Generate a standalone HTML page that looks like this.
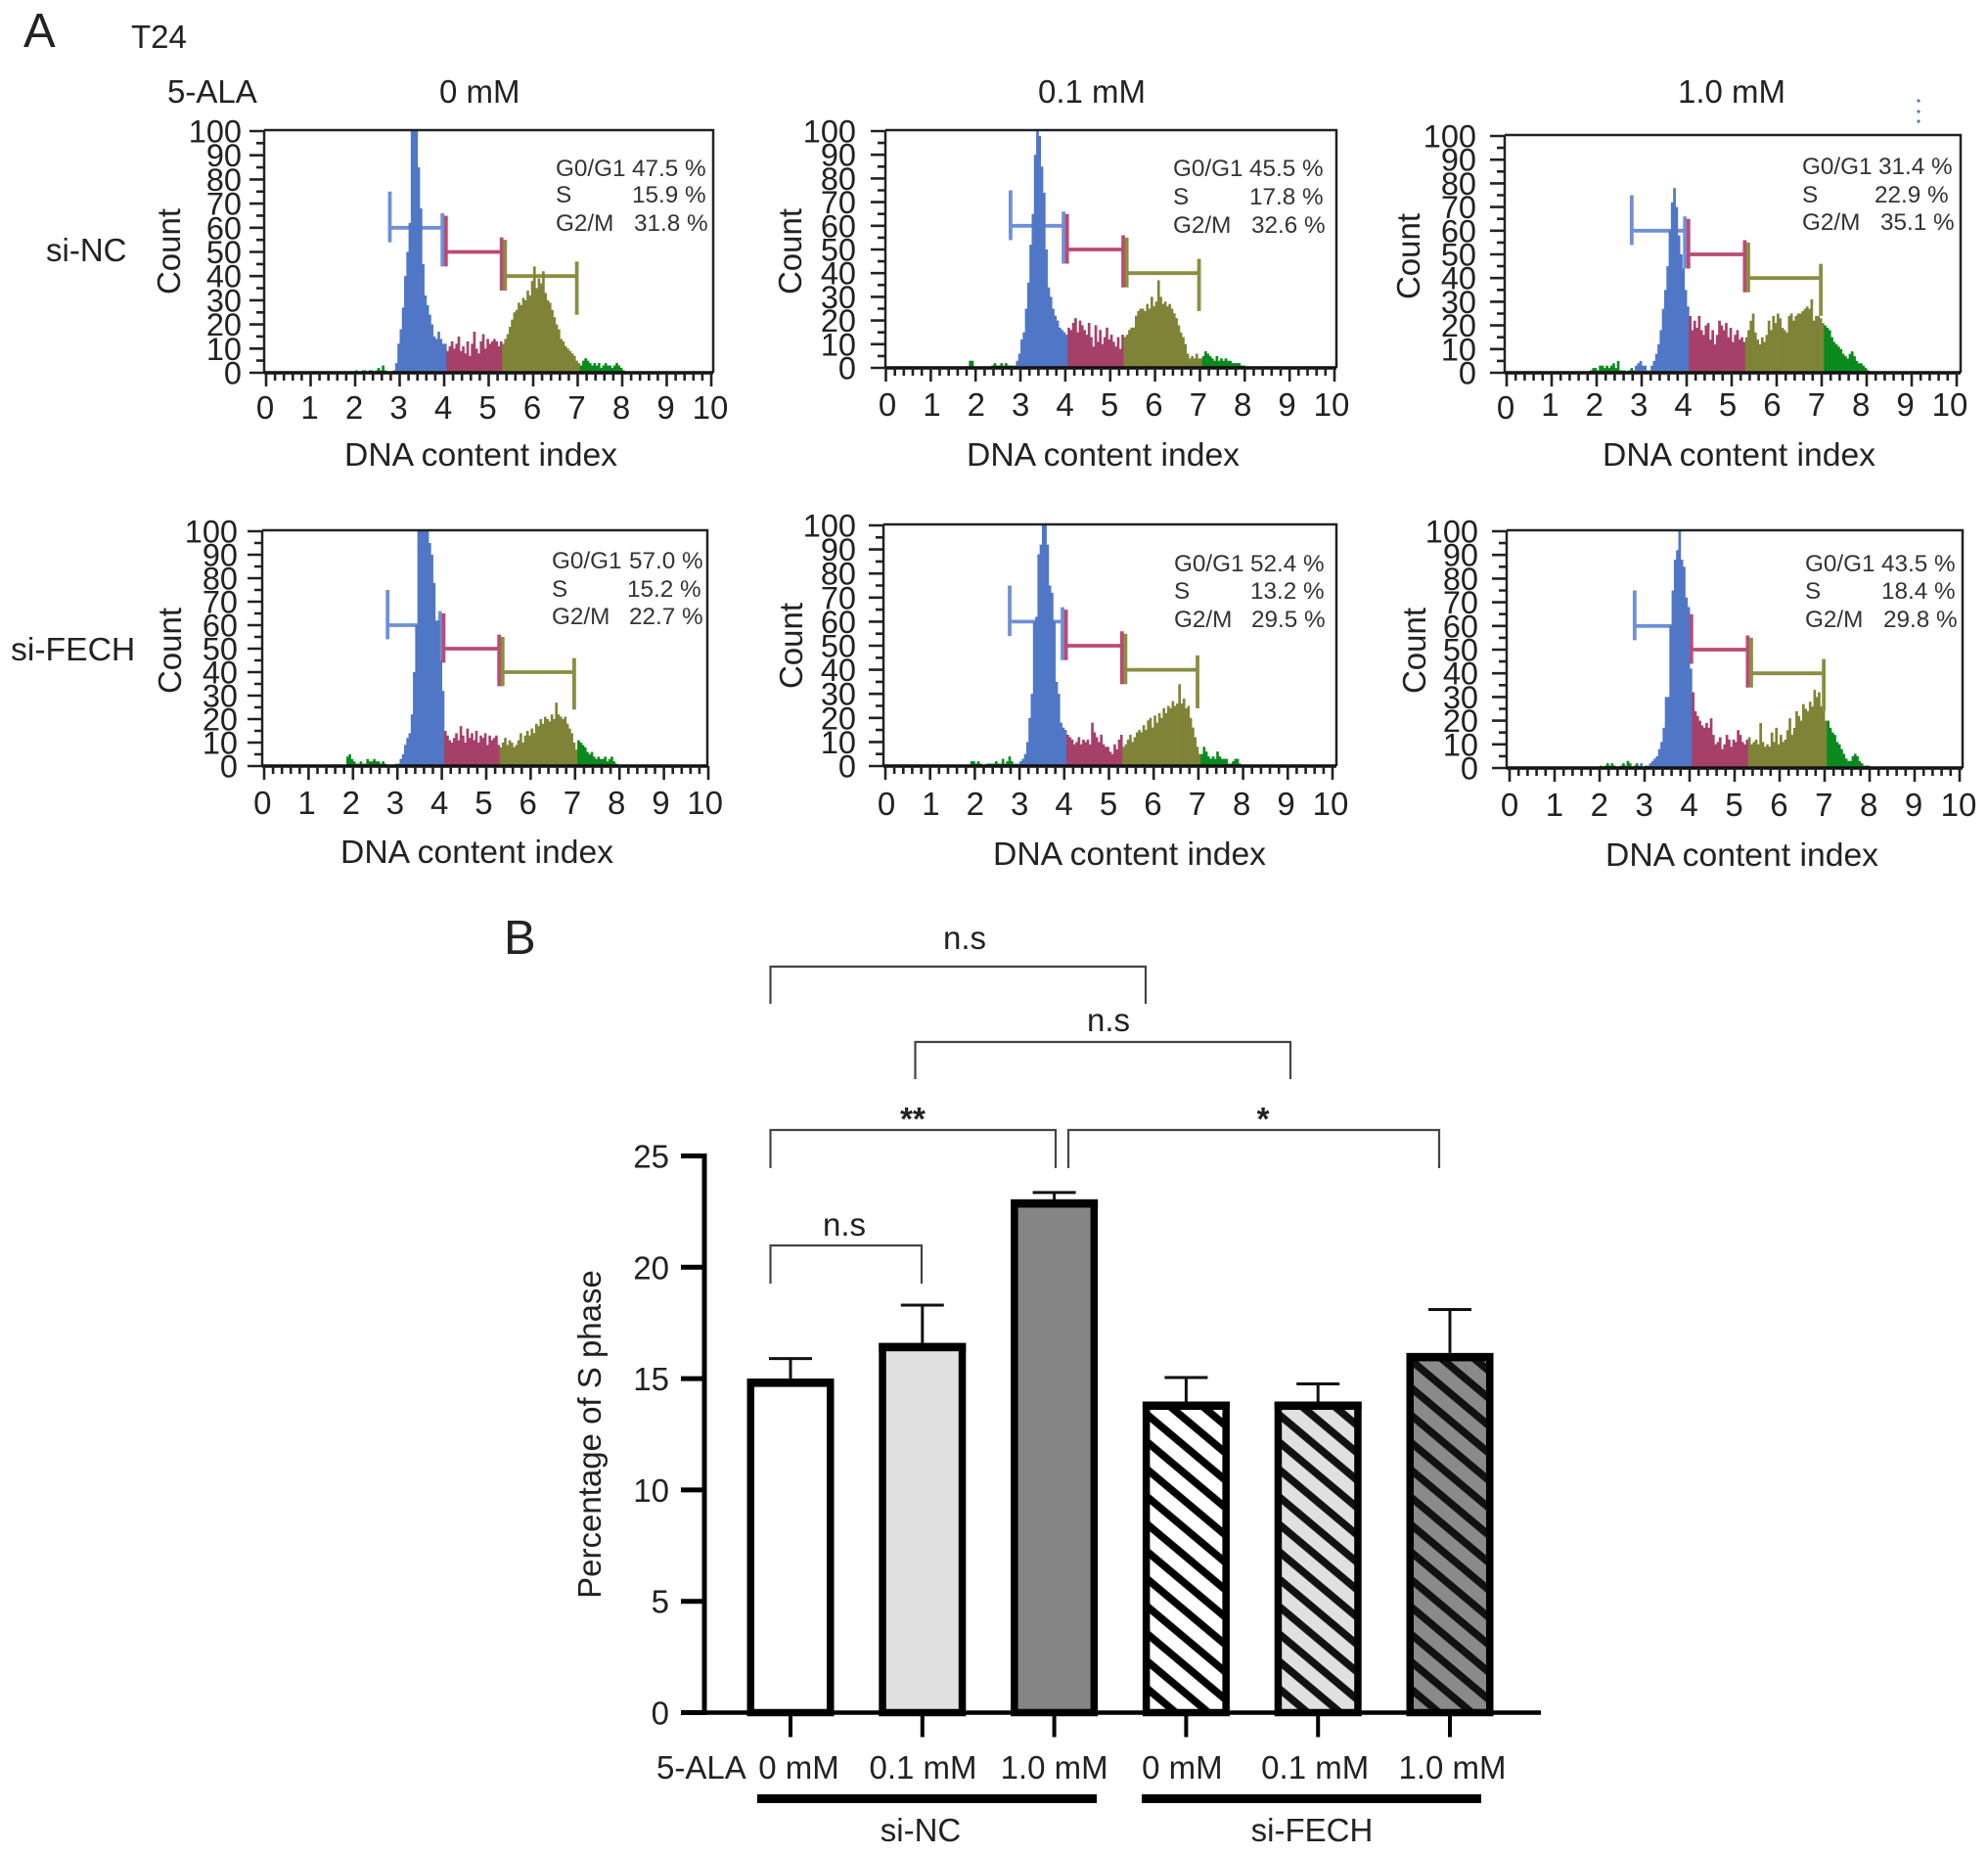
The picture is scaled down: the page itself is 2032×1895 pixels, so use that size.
<!DOCTYPE html>
<html lang="en">
<head>
<meta charset="utf-8">
<title>T24 cell cycle analysis</title>
<style>
html,body{margin:0;padding:0;background:#fff;}
svg{display:block;}
text{font-family:"Liberation Sans",Arial,sans-serif;fill:#222;}
.ax{font-size:33px;}
.dna{font-size:33.7px;}
.st{font-size:24.3px;fill:#333;}
.big{font-size:49px;}
</style>
</head>
<body>
<svg id="figure" xmlns="http://www.w3.org/2000/svg" width="2032" height="1895" viewBox="0 0 2032 1895">
<defs>
<pattern id="hatch-white" patternUnits="userSpaceOnUse" width="21.45" height="21.45" patternTransform="rotate(-50)">
<rect width="21.45" height="21.45" fill="#ffffff"/><rect x="6.9" width="7.7" height="21.45" fill="#000"/>
</pattern>
<pattern id="hatch-light" patternUnits="userSpaceOnUse" width="21.45" height="21.45" patternTransform="rotate(-50)">
<rect width="21.45" height="21.45" fill="#e0e0e0"/><rect x="7.7" width="7.7" height="21.45" fill="#111"/>
</pattern>
<pattern id="hatch-dark" patternUnits="userSpaceOnUse" width="21.45" height="21.45" patternTransform="rotate(-50)">
<rect width="21.45" height="21.45" fill="#8a8a8a"/><rect x="8.25" width="7.7" height="21.45" fill="#111"/>
</pattern>
</defs>

<text class="big" x="24" y="48">A</text>
<text x="134" y="49" style="font-size:33px">T24</text>
<text class="ax" x="171" y="105">5-ALA</text>
<text class="ax" x="449" y="105">0 mM</text>
<text class="ax" x="1061" y="105">0.1 mM</text>
<text class="ax" x="1715" y="105">1.0 mM</text>
<text class="ax" x="47" y="267">si-NC</text>
<text class="ax" x="11" y="675" style="font-size:33.7px">si-FECH</text>
<g fill="#5577bb">
<circle cx="1961" cy="103" r="1.6"/><circle cx="1961" cy="114" r="1.6"/><circle cx="1961" cy="124" r="1.6"/>
</g>

<g id="panels"></g>

<!-- Per-panel axis titles -->
<text class="ax dna" x="352" y="476">DNA content index</text>
<text class="ax dna" x="988" y="476">DNA content index</text>
<text class="ax dna" x="1638" y="476">DNA content index</text>
<text class="ax dna" x="348" y="882">DNA content index</text>
<text class="ax dna" x="1015" y="884">DNA content index</text>
<text class="ax dna" x="1641" y="885">DNA content index</text>
<text class="ax" text-anchor="middle" transform="translate(184,257) rotate(-90)">Count</text>
<text class="ax" text-anchor="middle" transform="translate(819,257) rotate(-90)">Count</text>
<text class="ax" text-anchor="middle" transform="translate(1451,262) rotate(-90)">Count</text>
<text class="ax" text-anchor="middle" transform="translate(185,665) rotate(-90)">Count</text>
<text class="ax" text-anchor="middle" transform="translate(820,660) rotate(-90)">Count</text>
<text class="ax" text-anchor="middle" transform="translate(1457,665) rotate(-90)">Count</text>

<!-- Phase percentages -->
<g>
<text class="st" x="568" y="180">G0/G1</text><text class="st" x="646" y="180">47.5 %</text>
<text class="st" x="568" y="207">S</text><text class="st" x="646" y="207">15.9 %</text>
<text class="st" x="568" y="236">G2/M</text><text class="st" x="648" y="236">31.8 %</text>
</g>
<g>
<text class="st" x="1199" y="180">G0/G1</text><text class="st" x="1277" y="180">45.5 %</text>
<text class="st" x="1199" y="209">S</text><text class="st" x="1277" y="209">17.8 %</text>
<text class="st" x="1199" y="238">G2/M</text><text class="st" x="1279" y="238">32.6 %</text>
</g>
<g>
<text class="st" x="1842" y="178">G0/G1</text><text class="st" x="1920" y="178">31.4 %</text>
<text class="st" x="1842" y="207">S</text><text class="st" x="1916" y="207">22.9 %</text>
<text class="st" x="1842" y="235">G2/M</text><text class="st" x="1922" y="235">35.1 %</text>
</g>
<g>
<text class="st" x="564" y="581">G0/G1</text><text class="st" x="643" y="581">57.0 %</text>
<text class="st" x="564" y="610">S</text><text class="st" x="641" y="610">15.2 %</text>
<text class="st" x="564" y="638">G2/M</text><text class="st" x="643" y="638">22.7 %</text>
</g>
<g>
<text class="st" x="1200" y="584">G0/G1</text><text class="st" x="1278" y="584">52.4 %</text>
<text class="st" x="1200" y="612">S</text><text class="st" x="1278" y="612">13.2 %</text>
<text class="st" x="1200" y="641">G2/M</text><text class="st" x="1279" y="641">29.5 %</text>
</g>
<g>
<text class="st" x="1845" y="584">G0/G1</text><text class="st" x="1923" y="584">43.5 %</text>
<text class="st" x="1845" y="612">S</text><text class="st" x="1923" y="612">18.4 %</text>
<text class="st" x="1845" y="641">G2/M</text><text class="st" x="1925" y="641">29.8 %</text>
</g>

<!-- Panel B -->
<text class="big" x="515" y="975">B</text>
<g id="bar-chart"></g>
<text class="ax" text-anchor="middle" transform="translate(614,1466) rotate(-90)">Percentage of S phase</text>
<text class="ax" x="671" y="1818">5-ALA</text>
<rect x="774" y="1834" width="347" height="9" fill="#000"/>
<rect x="1167" y="1834" width="347" height="9" fill="#000"/>
<text class="ax" x="941" y="1882" text-anchor="middle">si-NC</text>
<text class="ax" x="1341" y="1882" text-anchor="middle">si-FECH</text>

<g fill="none" stroke="#444" stroke-width="2.2">
<path d="M787.5 1026V988H1171V1026"/>
<path d="M935.5 1103V1065H1319V1103"/>
<path d="M787.5 1194V1155H1079V1194"/>
<path d="M1092 1194V1155H1471V1194"/>
<path d="M787.5 1312V1273H942V1312"/>
</g>
<text class="ax" x="986" y="970" text-anchor="middle">n.s</text>
<text class="ax" x="1133" y="1054" text-anchor="middle">n.s</text>
<text class="ax" x="933" y="1155" text-anchor="middle" font-weight="bold">**</text>
<text class="ax" x="1291" y="1155" text-anchor="middle" font-weight="bold">*</text>
<text class="ax" x="863" y="1263" text-anchor="middle">n.s</text>
</svg>

<script>
// ---- Histogram data: counts for bins of width 0.05 beginning at DNA index 1.8 ----
var histFirstBin = 1.8;
var histBinWidth = 0.05;
var gateEdges = [2.74, 4.0, 5.33, 7.02];
var phaseEdges = [2.85, 4.05, 5.3, 7.05];
var gateLevels = [60, 50, 40];
var histXTickLabels = ['0','1','2','3','4','5','6','7','8','9','10'];
var histYTickLabels = ['0','10','20','30','40','50','60','70','80','90','100'];

var countsNc0 = [0,0,0,0,1,0,0,1,1,0,1,1,0,1,2,1,3,1,0,0,0,
1,4,12,18,27,40,50,62,100,100,100,85,68,45,32,28,24,20,15,14,17,14,12,12,
9,11,13,10,12,15,9,11,8,13,7,12,17,10,8,13,16,10,14,12,13,14,13,11,13,
12,14,16,19,22,25,26,29,28,31,30,34,32,38,44,35,39,37,42,33,30,29,26,23,20,18,14,13,11,10,9,8,7,5,4,
3,5,6,5,4,3,4,3,4,2,3,4,3,3,2,3,4,3,2,1,0];
var countsNc01 = [0,3,3,0,0,0,0,0,0,0,0,1,2,1,1,2,1,2,1,1,1,
1,3,6,12,15,25,36,52,65,90,100,98,85,74,50,34,30,25,22,20,17,16,15,14,
17,16,19,21,15,20,18,16,14,19,13,9,18,11,16,10,13,17,12,14,11,9,13,8,14,
13,14,16,17,17,22,24,25,25,24,27,25,30,26,28,37,30,27,28,26,27,25,23,21,18,15,13,10,6,4,5,4,6,4,4,
5,7,6,5,4,3,5,3,4,3,4,3,3,2,2,2,2,1,1,0,0];
var countsNc10 = [0,1,2,2,1,3,3,2,3,2,3,4,2,5,1,1,1,0,1,2,1,
3,4,5,3,3,1,1,3,5,8,12,18,27,35,45,60,72,78,70,58,50,44,35,28,
24,18,22,19,24,18,16,20,21,14,18,12,16,22,20,18,21,15,19,13,16,18,14,15,13,
15,18,22,25,17,14,12,15,13,16,22,18,24,21,25,23,19,18,17,24,25,22,24,25,25,26,27,28,27,31,22,24,24,23,21,
20,19,18,15,13,12,11,10,8,7,6,8,9,7,5,4,4,3,2,1,0];
var countsFech0 = [0,4,5,3,2,1,1,2,1,1,3,2,2,3,2,2,1,2,1,0,0,
0,0,1,1,3,5,9,12,14,22,40,60,100,100,100,100,100,95,90,78,62,62,45,32,
15,13,11,10,12,14,11,17,13,10,16,12,14,11,15,10,13,12,14,9,13,11,12,13,9,
8,10,12,9,11,10,8,9,11,14,10,13,15,13,16,14,18,17,20,18,21,20,19,22,20,27,22,21,20,21,18,16,14,10,7,
11,10,9,8,6,5,6,4,3,4,3,3,4,2,3,4,2,1,0,0,0];
var countsFech01 = [0,0,2,2,1,2,1,0,0,1,1,1,1,2,1,1,3,1,2,4,2,
1,1,1,2,3,5,10,20,30,60,62,88,92,100,100,92,75,72,60,35,30,18,16,15,
13,12,11,9,10,12,9,11,10,11,9,18,14,12,10,13,9,8,8,6,5,9,7,11,13,
8,9,11,13,10,12,14,15,14,17,15,19,20,16,21,18,22,20,24,22,25,24,27,25,26,34,26,28,24,25,20,16,12,8,5,
5,8,6,4,3,4,3,6,4,3,3,3,1,1,2,3,3,1,0,0,0];
var countsFech10 = [0,0,0,0,1,0,1,2,1,2,1,0,0,1,2,1,3,2,0,1,2,
1,2,0,1,1,2,3,4,5,8,11,17,30,30,60,75,88,92,100,88,85,72,68,42,
32,24,22,20,18,17,19,17,21,14,10,11,13,8,10,14,12,9,12,11,16,14,11,10,12,
13,10,11,12,10,19,11,9,10,9,15,11,17,10,14,11,12,16,21,14,17,24,22,20,27,25,24,28,26,33,30,32,26,24,20,
20,17,15,14,11,10,8,6,4,3,3,5,6,5,3,2,1,1,1,0,0];

// ---- Bar chart data ----
var barCategories = ['0 mM','0.1 mM','1.0 mM','0 mM','0.1 mM','1.0 mM'];
var barValues = [15.0, 16.6, 23.05, 13.97, 13.97, 16.15];
var barErrorTops = [15.9, 18.3, 23.36, 15.05, 14.76, 18.1];
var barYTickLabels = ['0','5','10','15','20','25'];

var SVGNS = 'http://www.w3.org/2000/svg';
var panelsRoot = document.getElementById('panels');

function drawPanel(name, counts, box) {
  var g = document.createElementNS(SVGNS, 'g');
  
  
  panelsRoot.appendChild(g);

  var sx = function (v) { return box.x0 + (box.x10 - box.x0) * v / 10; };
  var sy = function (v) { return box.b + (box.t + 1 - box.b) * v / 100; };
  var lx = function (v) { return box.lx0 + (box.lx10 - box.lx0) * v / 10; };
  var binColors = ['#0b8a1e', '#5076c6', '#a64068', '#7f8338', '#0b8a1e'];
  var gateColors = ['#6f90d8', '#bb4a74', '#8b8e40'];

  // gates
  gateLevels.forEach(function (lvl, i) {
    var x1 = sx(gateEdges[i]), x2 = sx(gateEdges[i + 1]);
    var p = document.createElementNS(SVGNS, 'path');
    p.setAttribute('d', 'M' + x1 + ' ' + sy(lvl) + 'H' + x2 +
      'M' + (x1 + 1.8) + ' ' + sy(lvl + 15) + 'V' + sy(lvl - 6) +
      'M' + (x2 - 1.8) + ' ' + sy(lvl + 6) + 'V' + sy(lvl - 16));
    p.setAttribute('fill', 'none');
    p.setAttribute('stroke', gateColors[i]);
    p.setAttribute('stroke-width', '3.8');
    
    
    g.appendChild(p);
  });

  // histogram bins
  var binW = sx(histBinWidth) - sx(0);
  counts.forEach(function (c, i) {
    if (c <= 0) return;
    var v = histFirstBin + i * histBinWidth;
    var seg = 0;
    phaseEdges.forEach(function (e) { if (v >= e - 0.001) seg++; });
    var r = document.createElementNS(SVGNS, 'rect');
    r.setAttribute('x', sx(v).toFixed(2));
    r.setAttribute('y', sy(c).toFixed(2));
    r.setAttribute('width', (binW + 0.4).toFixed(2));
    r.setAttribute('height', (sy(0) - sy(c)).toFixed(2));
    r.setAttribute('fill', binColors[seg]);
    
    
    g.appendChild(r);
  });

  // frame
  var f = document.createElementNS(SVGNS, 'path');
  f.setAttribute('d', 'M' + box.l + ' ' + box.t + 'H' + box.r + 'V' + box.b + 'M' + box.l + ' ' + box.t + 'V' + box.b);
  f.setAttribute('fill', 'none');
  f.setAttribute('stroke', '#222');
  f.setAttribute('stroke-width', '2.5');
  
  
  g.appendChild(f);

  var base = document.createElementNS(SVGNS, 'line');
  base.setAttribute('x1', box.l);
  base.setAttribute('x2', box.r);
  base.setAttribute('y1', box.b);
  base.setAttribute('y2', box.b);
  base.setAttribute('stroke', '#111');
  base.setAttribute('stroke-width', '3.5');
  
  
  g.appendChild(base);

  // x ticks
  var td = '';
  for (var k = 0; k <= 50; k++) {
    var xv = k / 5;
    td += 'M' + sx(xv).toFixed(1) + ' ' + box.b + 'v' + (k % 5 === 0 ? 14 : 8);
  }
  // y ticks
  for (var m = 0; m <= 20; m++) {
    var yv = m * 5;
    td += 'M' + box.l + ' ' + sy(yv).toFixed(1) + 'h' + (m % 2 === 0 ? -15 : -8);
  }
  var ticks = document.createElementNS(SVGNS, 'path');
  ticks.setAttribute('d', td);
  ticks.setAttribute('fill', 'none');
  ticks.setAttribute('stroke', '#222');
  ticks.setAttribute('stroke-width', '2.6');
  
  
  g.appendChild(ticks);

  histXTickLabels.forEach(function (lab, idx) {
    var t = document.createElementNS(SVGNS, 'text');
    t.setAttribute('x', lx(Number(lab)));
    t.setAttribute('y', box.xLabelY + (idx === 0 ? box.zeroDy : 0));
    t.setAttribute('text-anchor', 'middle');
    t.setAttribute('style', 'font-size:33px');
    
    
    t.textContent = lab;
    g.appendChild(t);
  });
  histYTickLabels.forEach(function (lab) {
    var t = document.createElementNS(SVGNS, 'text');
    t.setAttribute('x', box.yLabelX);
    t.setAttribute('y', sy(Number(lab)) + 11.5);
    t.setAttribute('text-anchor', 'end');
    t.setAttribute('style', 'font-size:32.5px');
    
    
    t.textContent = lab;
    g.appendChild(t);
  });
}

drawPanel('nc-0', countsNc0, {x0:272, x10:727, lx0:271, lx10:726, zeroDy:0, l:270, r:729, t:133, b:381, xLabelY:428, yLabelX:247});
drawPanel('nc-01', countsNc01, {x0:905.5, x10:1364, lx0:907, lx10:1361, zeroDy:0, l:905, r:1366, t:133, b:376, xLabelY:425, yLabelX:875});
drawPanel('nc-10', countsNc10, {x0:1540, x10:2000, lx0:1539, lx10:1993, zeroDy:3, l:1538, r:2004, t:138, b:381, xLabelY:425, yLabelX:1509});
drawPanel('fech-0', countsFech0, {x0:270, x10:724, lx0:268.3, lx10:720.6, zeroDy:0, l:268, r:723, t:542, b:783, xLabelY:832, yLabelX:243});
drawPanel('fech-01', countsFech01, {x0:905, x10:1362, lx0:906, lx10:1360, zeroDy:0, l:903, r:1366, t:536, b:783, xLabelY:833, yLabelX:875});
drawPanel('fech-10', countsFech10, {x0:1543, x10:2003, lx0:1543, lx10:2002, zeroDy:0, l:1540, r:2006, t:542, b:785, xLabelY:834, yLabelX:1511});

// ---- Bar chart ----
(function () {
  var root = document.getElementById('bar-chart');
  var yBase = 1750.5, unit = 22.76;
  var sy = function (v) { return yBase - v * unit; };
  var firstCenter = 808, step = 134.8, barW = 89;
  var sx = function (i) { return firstCenter + i * step; };
  var fills = ['#ffffff', '#e0e0e0', '#858585', 'url(#hatch-white)', 'url(#hatch-light)', 'url(#hatch-dark)'];
  var labelShift = function (i) { return i === 0 ? 8.5 : i === 1 ? 0.7 : i === 3 ? -4 : i === 4 ? -3 : i === 5 ? 2.5 : 0; };

  barValues.forEach(function (val, i) {
    var c = sx(i);
    var e = document.createElementNS(SVGNS, 'path');
    e.setAttribute('d', 'M' + c + ' ' + sy(val) + 'V' + sy(barErrorTops[i]) + 'M' + (c - 22) + ' ' + sy(barErrorTops[i]) + 'H' + (c + 22));
    e.setAttribute('fill', 'none');
    e.setAttribute('stroke', '#111');
    e.setAttribute('stroke-width', '3');
    
    
    root.appendChild(e);

    var r = document.createElementNS(SVGNS, 'rect');
    r.setAttribute('x', c - barW / 2 + 3.75);
    r.setAttribute('y', sy(val) + 3.75);
    r.setAttribute('width', barW - 7.5);
    r.setAttribute('height', yBase - sy(val) - 3.75);
    r.setAttribute('fill', fills[i]);
    r.setAttribute('stroke', '#000');
    r.setAttribute('stroke-width', '7.5');
    
    
    root.appendChild(r);

    var cap = document.createElementNS(SVGNS, 'rect');
    cap.setAttribute('x', c - barW / 2);
    cap.setAttribute('y', sy(val));
    cap.setAttribute('width', barW);
    cap.setAttribute('height', 8.5);
    cap.setAttribute('fill', '#000');
    
    
    root.appendChild(cap);

    var tick = document.createElementNS(SVGNS, 'line');
    tick.setAttribute('x1', c);
    tick.setAttribute('x2', c);
    tick.setAttribute('y1', yBase);
    tick.setAttribute('y2', yBase + 25);
    tick.setAttribute('stroke', '#000');
    tick.setAttribute('stroke-width', '4');
    
    
    root.appendChild(tick);

    var lab = document.createElementNS(SVGNS, 'text');
    lab.setAttribute('x', c + labelShift(i));
    lab.setAttribute('y', 1818);
    lab.setAttribute('text-anchor', 'middle');
    lab.setAttribute('style', 'font-size:33px');
    
    
    lab.textContent = barCategories[i];
    root.appendChild(lab);
  });

  var yAxis = document.createElementNS(SVGNS, 'line');
  yAxis.setAttribute('x1', 720);
  yAxis.setAttribute('x2', 720);
  yAxis.setAttribute('y1', sy(25) - 2.5);
  yAxis.setAttribute('y2', yBase + 2.5);
  yAxis.setAttribute('stroke', '#000');
  yAxis.setAttribute('stroke-width', '5');
  
  
  root.appendChild(yAxis);

  var xAxis = document.createElementNS(SVGNS, 'line');
  xAxis.setAttribute('x1', 696);
  xAxis.setAttribute('x2', 1575);
  xAxis.setAttribute('y1', yBase);
  xAxis.setAttribute('y2', yBase);
  xAxis.setAttribute('stroke', '#000');
  xAxis.setAttribute('stroke-width', '4.5');
  
  
  root.appendChild(xAxis);

  barYTickLabels.forEach(function (lab) {
    var v = Number(lab);
    var tick = document.createElementNS(SVGNS, 'line');
    tick.setAttribute('x1', 696);
    tick.setAttribute('x2', 720);
    tick.setAttribute('y1', sy(v));
    tick.setAttribute('y2', sy(v));
    tick.setAttribute('stroke', '#000');
    tick.setAttribute('stroke-width', '5');
    
    
    root.appendChild(tick);

    var t = document.createElementNS(SVGNS, 'text');
    t.setAttribute('x', 684);
    t.setAttribute('y', sy(v) + 12);
    t.setAttribute('text-anchor', 'end');
    t.setAttribute('style', 'font-size:33px');
    
    
    t.textContent = lab;
    root.appendChild(t);
  });
})();
</script>
</body>
</html>
